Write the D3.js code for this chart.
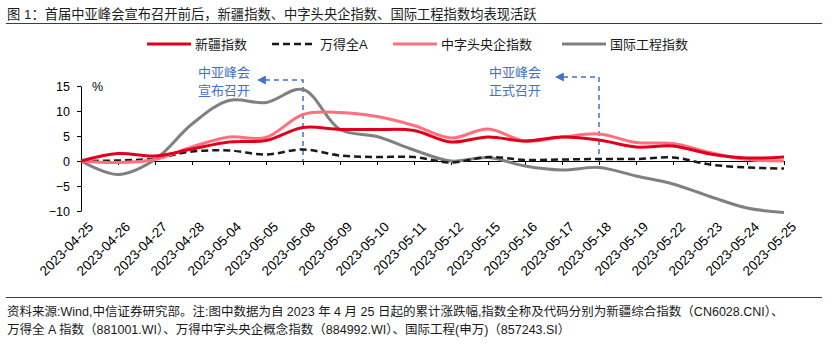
<!DOCTYPE html>
<html>
<head>
<meta charset="utf-8">
<script src="https://cdn.jsdelivr.net/npm/d3@7"></script>
<style>
  body { margin: 0; background: #fff; }
  svg { font-family: Arial, "Liberation Sans", "Noto Sans CJK SC", sans-serif; }
</style>
</head>
<body>
<svg width="838" height="344"></svg>
<script>
// dates and cumulative returns (%) since 2023-04-25
var dates = ['2023-04-25', '2023-04-26', '2023-04-27', '2023-04-28', '2023-05-04',
  '2023-05-05', '2023-05-08', '2023-05-09', '2023-05-10', '2023-05-11', '2023-05-12',
  '2023-05-15', '2023-05-16', '2023-05-17', '2023-05-18', '2023-05-19', '2023-05-22',
  '2023-05-23', '2023-05-24', '2023-05-25'];
var xinjiang = [0, 1.5, 1.0, 2.4, 3.8, 4.1, 6.7, 6.3, 6.3, 6.1, 3.8, 4.8, 4.0, 4.8, 4.2,
  2.8, 3.0, 1.4, 0.6, 0.8];
var wandeA = [0, 0.1, 0.5, 1.9, 2.1, 1.3, 2.3, 1.1, 0.8, 0.8, -0.3, 0.8, 0.2, 0.3, 0.4,
  0.4, 0.7, -0.7, -1.3, -1.5];
var zhongzitou = [0, -0.3, 0.3, 2.8, 4.8, 4.7, 9.3, 9.7, 8.9, 7.1, 4.6, 6.4, 4.0, 4.8, 5.4,
  3.7, 3.5, 1.7, 0.3, 0.0];
var guoji = [0, -2.7, 0.3, 7.4, 12.1, 11.7, 14.3, 6.3, 4.9, 2.2, 0.0, 0.7, -1.0, -1.8, -1.3,
  -3.0, -4.6, -7.1, -9.4, -10.3];
var yTicks = [15, 10, 5, 0, -5, -10];

var series = [
  { name: '新疆指数', values: xinjiang, color: '#e0001b', width: 3, dash: null },
  { name: '万得全A', values: wandeA, color: '#1a1a1a', width: 2.5, dash: '7,4' },
  { name: '中字头央企指数', values: zhongzitou, color: '#ff6f80', width: 3, dash: null },
  { name: '国际工程指数', values: guoji, color: '#808080', width: 3, dash: null }
];
var drawOrder = [3, 1, 2, 0];

var svg = d3.select('svg');
var plotLeft = 81, plotRight = 784, plotTop = 86, plotBottom = 211;

var x = d3.scalePoint().domain(dates).range([plotLeft, plotRight]);
var y = d3.scaleLinear().domain([-10, 15]).range([plotBottom, plotTop]);

// title
svg.append('text')
  .attr('x', 7)
  .attr('y', 19)
  .attr('font-size', 13.3)
  .attr('fill', '#1a1a1a')
  .text('图 1：首届中亚峰会宣布召开前后，新疆指数、中字头央企指数、国际工程指数均表现活跃');
svg.append('line')
  .attr('x1', 6).attr('x2', 822).attr('y1', 23.5).attr('y2', 23.5)
  .attr('stroke', '#a50f15').attr('stroke-width', 1);

// legend
var legendX = [147, 272, 393, 562];
var leg = svg.append('g').selectAll('g')
  .data(series)
  .enter()
  .append('g')
  .attr('transform', (d, i) => 'translate(' + legendX[i] + ',44)');
leg.append('line')
  .attr('x1', 0).attr('x2', 44)
  .attr('stroke', (d) => d.color)
  .attr('stroke-width', (d) => d.width)
  .attr('stroke-dasharray', (d) => d.dash);
leg.append('text')
  .attr('x', 48)
  .attr('dy', '0.36em')
  .attr('font-size', 13)
  .attr('fill', '#1a1a1a')
  .text((d) => d.name);

// y axis
var yAxis = d3.axisLeft(y).tickValues(yTicks).tickSize(4).tickSizeOuter(0);
var gy = svg.append('g')
  .attr('transform', 'translate(' + plotLeft + ',0)')
  .call(yAxis);
gy.select('.domain').attr('stroke', '#000');
gy.selectAll('text').attr('font-size', 12.5).attr('fill', '#000').attr('x', -11);

svg.append('text')
  .attr('x', 92)
  .attr('y', 91)
  .attr('font-size', 12.5)
  .text('%');

// x axis across zero
var xAxis = d3.axisBottom(x).tickSize(4).tickSizeOuter(0);
var gx = svg.append('g')
  .attr('transform', 'translate(0,' + y(0) + ')')
  .call(xAxis);
gx.select('.domain').attr('stroke', '#000');
gx.selectAll('.tick line').attr('stroke', '#000');
gx.selectAll('text')
  .attr('font-size', 13.5)
  .attr('fill', '#000')
  .attr('text-anchor', 'end')
  .attr('transform', 'translate(6,' + (plotBottom - y(0) + 10) + ') rotate(-45)')
  .attr('x', 0)
  .attr('y', 0)
  .attr('dy', '0.7em');

// annotations
var blue = '#4472c4';
var notes = [
  { date: '2023-05-08', lines: ['中亚峰会', '宣布召开'], tx: 224, ay: 80, tip: 256 },
  { date: '2023-05-18', lines: ['中亚峰会', '正式召开'], tx: 515, ay: 77, tip: 554 }
];
svg.append('defs').append('marker')
  .attr('id', 'arrow')
  .attr('viewBox', '0 0 10 10')
  .attr('refX', 1).attr('refY', 5)
  .attr('markerWidth', 6).attr('markerHeight', 6)
  .attr('markerUnits', 'strokeWidth')
  .attr('orient', 'auto-start-reverse')
  .append('path')
  .attr('d', 'M0,0 L10,5 L0,10 Z')
  .attr('fill', blue);
notes.forEach(function (n) {
  var nx = x(n.date);
  svg.append('path')
    .attr('d', 'M' + (n.tip + 9) + ',' + n.ay + 'H' + nx + 'V' + y(0))
    .attr('fill', 'none')
    .attr('stroke', blue)
    .attr('stroke-width', 1.5)
    .attr('stroke-dasharray', '5,4')
    .attr('marker-start', 'url(#arrow)');
  n.lines.forEach(function (t, i) {
    svg.append('text')
      .attr('x', n.tx)
      .attr('y', 77 + i * 18)
      .attr('text-anchor', 'middle')
      .attr('font-size', 13)
      .attr('fill', blue)
      .text(t);
  });
});

// smoothed lines
var line = d3.line()
  .x((d, i) => x(dates[i]))
  .y((d) => y(d))
  .curve(d3.curveCatmullRom.alpha(0.5));
svg.append('g').selectAll('path')
  .data(drawOrder.map((i) => series[i]))
  .enter()
  .append('path')
  .attr('d', (d) => line(d.values))
  .attr('fill', 'none')
  .attr('stroke', (d) => d.color)
  .attr('stroke-width', (d) => d.width)
  .attr('stroke-dasharray', (d) => d.dash);

// source note
svg.append('line')
  .attr('x1', 6).attr('x2', 822).attr('y1', 297.5).attr('y2', 297.5)
  .attr('stroke', '#a50f15').attr('stroke-width', 1);
var foot = [
  '资料来源:Wind,中信证券研究部。注:图中数据为自 2023 年 4 月 25 日起的累计涨跌幅,指数全称及代码分别为新疆综合指数（CN6028.CNI）、',
  '万得全 A 指数（881001.WI）、万得中字头央企概念指数（884992.WI）、国际工程(申万)（857243.SI）'
];
foot.forEach(function (t, i) {
  svg.append('text')
    .attr('x', 7)
    .attr('y', 316 + i * 18)
    .attr('font-size', 12.5)
    .attr('fill', '#1a1a1a')
    .text(t);
});
</script>
</body>
</html>
